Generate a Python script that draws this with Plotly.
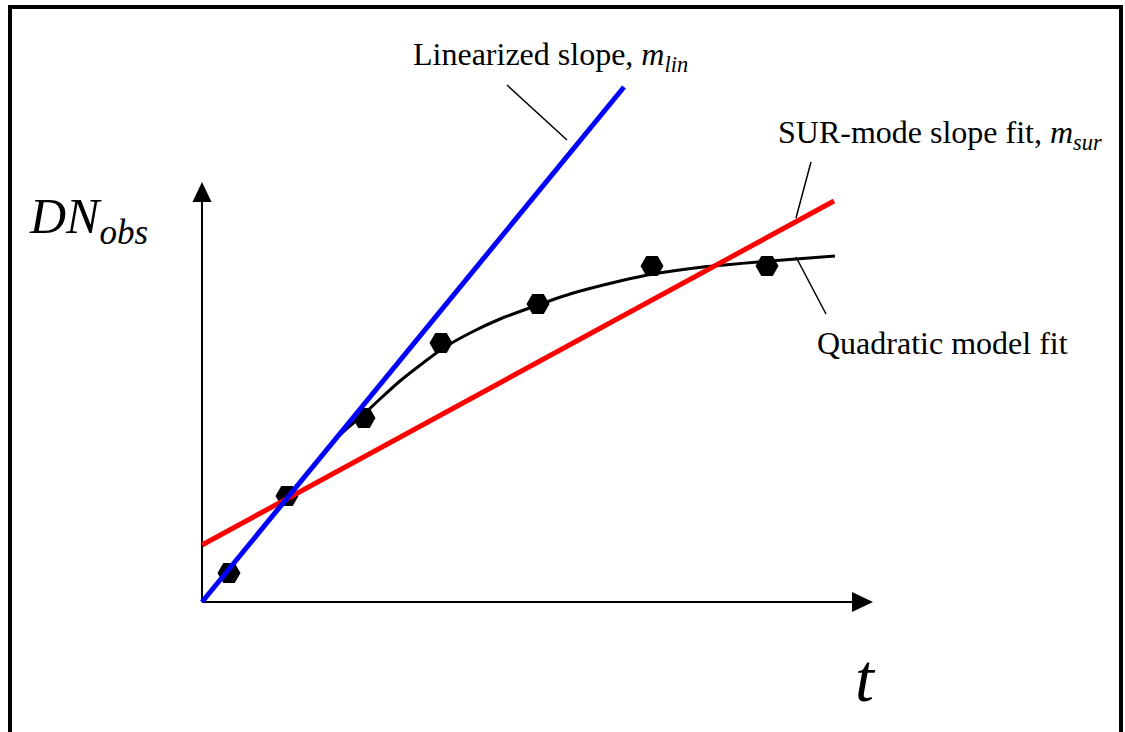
import plotly.graph_objects as go

# ---- data (abstract units: t, DN) ----
obs_t = [0.27, 0.85, 1.62, 2.39, 3.36, 4.50, 5.65]
obs_dn = [0.29, 1.06, 1.84, 2.59, 2.98, 3.36, 3.36]

quad_t = [0.00, 0.27, 0.58, 0.85, 1.13, 1.38, 1.61, 1.78, 1.98, 2.21, 2.40, 2.68,
          2.98, 3.36, 3.68, 4.18, 4.51, 5.01, 5.68, 6.33]
quad_dn = [0.00, 0.33, 0.71, 1.04, 1.38, 1.67, 1.87, 2.03, 2.21, 2.39, 2.53, 2.69,
           2.83, 2.97, 3.08, 3.21, 3.28, 3.35, 3.41, 3.46]

lin_t = [0.00, 4.22]
lin_dn = [0.00, 5.15]

sur_t = [0.00, 6.32]
sur_dn = [0.57, 4.01]

# ---- pixel helpers (layout only) ----
OX, OY, S = 202, 602, 100.0
def px(x):
    return (x - OX) / S
def py(y):
    return (OY - y) / S

fig = go.Figure()

fig.add_trace(go.Scatter(x=quad_t, y=quad_dn, mode="lines",
                         line=dict(color="black", width=3, shape="spline", smoothing=0.6),
                         hoverinfo="skip"))
fig.add_trace(go.Scatter(x=obs_t, y=obs_dn, mode="markers",
                         marker=dict(symbol="hexagon2", size=23, color="black"),
                         hoverinfo="skip"))
fig.add_trace(go.Scatter(x=sur_t, y=sur_dn, mode="lines",
                         line=dict(color="#ff0000", width=5), hoverinfo="skip"))
fig.add_trace(go.Scatter(x=lin_t, y=lin_dn, mode="lines",
                         line=dict(color="#0000ff", width=5), hoverinfo="skip"))

shapes = []
shapes.append(dict(type="rect", x0=px(10), x1=px(1121), y0=py(7), y1=py(760),
                   line=dict(color="black", width=4), layer="below"))
shapes.append(dict(type="line", x0=px(202), y0=py(602), x1=px(860), y1=py(602),
                   line=dict(color="black", width=2), layer="below"))
shapes.append(dict(type="line", x0=px(202), y0=py(602), x1=px(202), y1=py(195),
                   line=dict(color="black", width=2), layer="below"))
shapes.append(dict(type="path",
                   path=f"M {px(873)},{py(602)} L {px(852)},{py(592)} L {px(852)},{py(612)} Z",
                   fillcolor="black", line=dict(color="black", width=0)))
shapes.append(dict(type="path",
                   path=f"M {px(202)},{py(182)} L {px(192.5)},{py(202)} L {px(211.5)},{py(202)} Z",
                   fillcolor="black", line=dict(color="black", width=0)))
for (xa, ya, xb, yb) in [(507, 85, 567, 140), (811, 162, 796, 218), (796, 257, 826, 314)]:
    shapes.append(dict(type="line", x0=px(xa), y0=py(ya), x1=px(xb), y1=py(yb),
                       line=dict(color="black", width=1.5)))

FONT = "Liberation Serif, Times New Roman, serif"
ann = []
def label(text, x, y, size, anchor="left"):
    ann.append(dict(text=text, x=px(x), y=py(y), xref="x", yref="y", showarrow=False,
                    xanchor=anchor, yanchor="middle",
                    font=dict(family=FONT, size=size, color="black")))

label("Linearized slope, <i>m</i><sub><i>lin</i></sub>", 411, 56, 32)
label("SUR-mode slope fit, <i>m</i><sub><i>sur</i></sub>", 776, 134, 32)
label("Quadratic model fit", 815, 343, 32)
label("<i>DN</i><sub><i>obs</i></sub>", 27, 220, 50)
label("<i>t</i>", 853, 678, 68)

fig.update_layout(
    width=1125, height=732, margin=dict(l=0, r=0, t=0, b=0),
    paper_bgcolor="white", plot_bgcolor="white", showlegend=False,
    xaxis=dict(range=[px(0), px(1125)], visible=False, fixedrange=True),
    yaxis=dict(range=[py(732), py(0)], visible=False, fixedrange=True),
    shapes=shapes, annotations=ann,
)
fig.write_html("out.html", config={"displayModeBar": False},
               post_script="document.body.style.margin='0';document.body.style.overflow='hidden';")
